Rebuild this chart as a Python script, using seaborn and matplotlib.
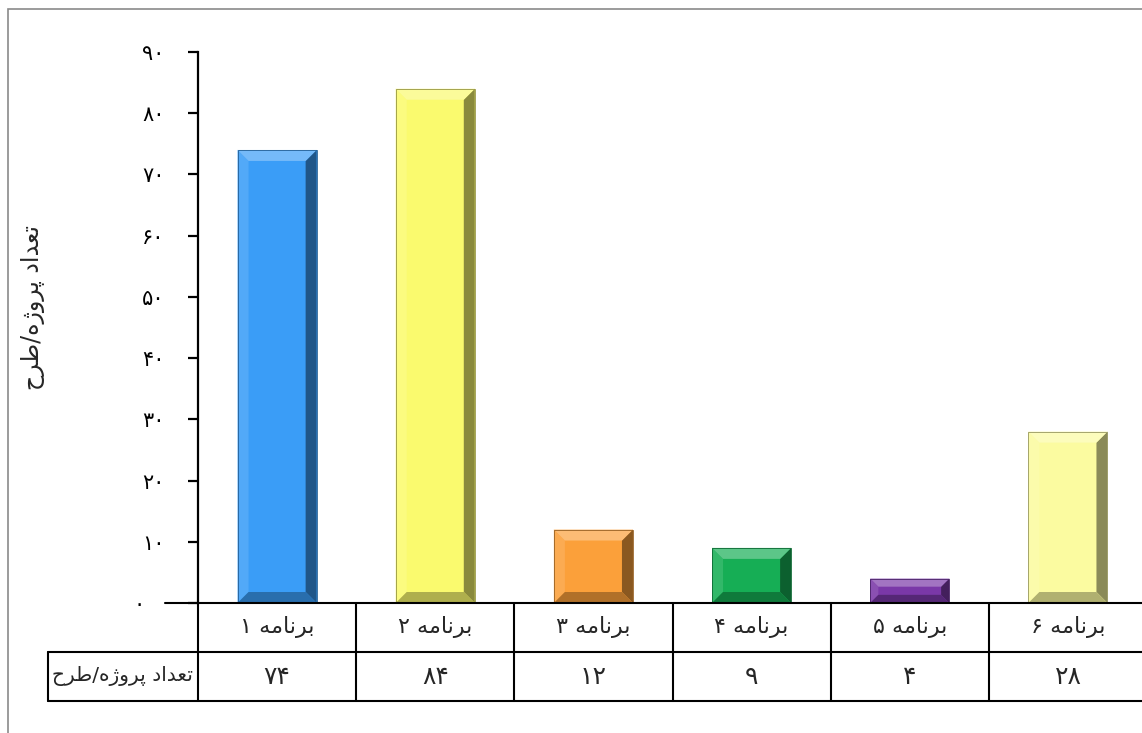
import numpy as np
import matplotlib
matplotlib.use("Agg")
import matplotlib.pyplot as plt
import seaborn as sns
from matplotlib.patches import Polygon, Rectangle
from matplotlib.lines import Line2D
import matplotlib.transforms as mtransforms
from matplotlib.colors import to_rgb

# ---------------- data ----------------
categories = ['برنامه ۱', 'برنامه ۲', 'برنامه ۳', 'برنامه ۴', 'برنامه ۵', 'برنامه ۶']
values = [74, 84, 12, 9, 4, 28]
colors = ['#3A9DF7', '#FAFA6E', '#FBA03A', '#16AE55', '#7A38A8', '#FBFBA0']
row_label = 'تعداد پروژه/طرح'
y_label = 'تعداد پروژه/طرح'
y_ticks = [0, 10, 20, 30, 40, 50, 60, 70, 80, 90]

# ---------------- minimal Arabic/Persian shaping ----------------
FORMS = {
    'ا': ('\uFE8D', '\uFE8E', None, None),
    'ب': ('\uFE8F', '\uFE90', '\uFE91', '\uFE92'),
    'ت': ('\uFE95', '\uFE96', '\uFE97', '\uFE98'),
    'ح': ('\uFEA1', '\uFEA2', '\uFEA3', '\uFEA4'),
    'د': ('\uFEA9', '\uFEAA', None, None),
    'ر': ('\uFEAD', '\uFEAE', None, None),
    'ژ': ('\uFB8A', '\uFB8B', None, None),
    'ط': ('\uFEC1', '\uFEC2', '\uFEC3', '\uFEC4'),
    'ع': ('\uFEC9', '\uFECA', '\uFECB', '\uFECC'),
    'م': ('\uFEE1', '\uFEE2', '\uFEE3', '\uFEE4'),
    'ن': ('\uFEE5', '\uFEE6', '\uFEE7', '\uFEE8'),
    'ه': ('\uFEE9', '\uFEEA', '\uFEEB', '\uFEEC'),
    'و': ('\uFEED', '\uFEEE', None, None),
    'پ': ('\uFB56', '\uFB57', '\uFB58', '\uFB59'),
}
PERSIAN_DIGITS = '۰۱۲۳۴۵۶۷۸۹'


def fa_num(n):
    return ''.join(PERSIAN_DIGITS[int(c)] for c in str(n))


def shape(s):
    out = []
    for i, ch in enumerate(s):
        if ch not in FORMS:
            out.append(ch)
            continue
        prev = s[i - 1] if i > 0 else ''
        nxt = s[i + 1] if i + 1 < len(s) else ''
        pj = prev in FORMS and FORMS[prev][2] is not None
        nj = nxt in FORMS and FORMS[ch][2] is not None
        iso, fin, ini, med = FORMS[ch]
        if pj and nj:
            out.append(med)
        elif pj:
            out.append(fin)
        elif nj:
            out.append(ini)
        else:
            out.append(iso)
    shaped = ''.join(out)
    runs = []
    cur = ''
    cur_digit = None
    for ch in shaped:
        d = ch in PERSIAN_DIGITS or ch.isdigit()
        if cur_digit is None or d == cur_digit:
            cur += ch
        else:
            runs.append((cur, cur_digit))
            cur = ch
        cur_digit = d
    if cur:
        runs.append((cur, cur_digit))
    vis = ''
    for r, d in reversed(runs):
        vis += r if d else r[::-1]
    return vis


# ---------------- figure ----------------
sns.set_theme(style='white')
plt.rcParams['font.family'] = ['DejaVu Sans']
W, H = 1142, 733
fig = plt.figure(figsize=(W / 100, H / 100), dpi=100)
ax_left, ax_right, ax_top, ax_bottom = 198, 1147, 52, 603
ax = fig.add_axes([ax_left / W, (H - ax_bottom) / H,
                   (ax_right - ax_left) / W, (ax_bottom - ax_top) / H])

sns.barplot(x=categories, y=values, hue=categories, palette=colors,
            width=0.5, legend=False, ax=ax, linewidth=0, saturation=1)
ax.set_xlim(-0.5, len(categories) - 0.5)
ax.set_ylim(0, 90)
ax.set_yticks(y_ticks)
ax.set_yticklabels([fa_num(v) for v in y_ticks], fontsize=15)
ax.set_xticks([])
ax.set_xlabel('')
ax.set_ylabel(shape(y_label), fontsize=17)
ax.yaxis.set_label_coords((45 - ax_left) / (ax_right - ax_left),
                          (ax_bottom - 308) / (ax_bottom - ax_top))
ax.tick_params(axis='y', direction='out', length=7, width=1.6, pad=17,
               colors='black', left=True)
for s in ['top', 'right', 'bottom']:
    ax.spines[s].set_visible(False)
ax.spines['left'].set_linewidth(1.6)
ax.spines['left'].set_color('black')
# the zero label sits a little further left, clear of the extended baseline
zero_lbl = ax.yaxis.get_major_ticks()[0].label1
zero_lbl.set_transform(zero_lbl.get_transform() +
                       mtransforms.ScaledTranslation(-0.2, 0, fig.dpi_scale_trans))


def mix(c, other, t):
    c = np.array(to_rgb(c))
    o = np.array(to_rgb(other))
    return tuple(c * (1 - t) + o * t)


# bevel overlays derived from the seaborn bar patches
px_per_x = (ax_right - ax_left) / (ax.get_xlim()[1] - ax.get_xlim()[0])
px_per_y = (ax_bottom - ax_top) / (ax.get_ylim()[1] - ax.get_ylim()[0])
for p, col in zip(list(ax.patches), colors):
    x0, w, h = p.get_x(), p.get_width(), p.get_height()
    if h <= 0:
        continue
    hp = h * px_per_y
    b = min(11, hp / 3)
    bx = b / px_per_x
    by = b / px_per_y
    x1 = x0 + w
    top = [(x0, h), (x1, h), (x1 - bx, h - by), (x0 + bx, h - by)]
    right = [(x1, h), (x1, 0), (x1 - bx, by), (x1 - bx, h - by)]
    left = [(x0, h), (x0 + bx, h - by), (x0 + bx, by), (x0, 0)]
    bottom = [(x0, 0), (x1, 0), (x1 - bx, by), (x0 + bx, by)]
    ax.add_patch(Polygon(left, closed=True, color=mix(col, 'white', 0.12), lw=0))
    ax.add_patch(Polygon(right, closed=True, color=mix(col, 'black', 0.45), lw=0))
    ax.add_patch(Polygon(bottom, closed=True, color=mix(col, 'black', 0.3), lw=0))
    ax.add_patch(Polygon(top, closed=True, color=mix(col, 'white', 0.3), lw=0))
    ax.add_patch(Rectangle((x0, 0), w, h, fill=False, ec=mix(col, 'black', 0.4), lw=0.6))

# ---------------- data table ----------------
tr = mtransforms.blended_transform_factory(ax.transData, ax.transAxes)
row_h = 49 / (ax_bottom - ax_top)
n = len(categories)
lc = 'black'
lw = 1.5
left_line_x = -0.5 - 33 / px_per_x
label_cell_x = -0.5 - 150 / px_per_x
ax.add_line(Line2D([left_line_x, n], [0, 0], transform=tr, color=lc, lw=lw, clip_on=False))
ax.add_line(Line2D([label_cell_x, n], [-row_h, -row_h], transform=tr, color=lc, lw=lw, clip_on=False))
ax.add_line(Line2D([label_cell_x, n], [-2 * row_h, -2 * row_h], transform=tr, color=lc, lw=lw, clip_on=False))
ax.add_line(Line2D([label_cell_x, label_cell_x], [-row_h, -2 * row_h], transform=tr, color=lc, lw=lw, clip_on=False))
for i in range(n + 1):
    xb = i - 0.5
    ax.add_line(Line2D([xb, xb], [0, -2 * row_h], transform=tr, color=lc, lw=lw, clip_on=False))
for i, (c, v) in enumerate(zip(categories, values)):
    ax.text(i, -0.5 * row_h, shape(c), transform=tr, ha='center', va='center', fontsize=16, clip_on=False)
    ax.text(i, -1.5 * row_h, fa_num(v), transform=tr, ha='center', va='center', fontsize=18, clip_on=False)
ax.text((label_cell_x - 0.5) / 2, -1.5 * row_h, shape(row_label), transform=tr,
        ha='center', va='center', fontsize=14.5, clip_on=False)

# outer chart frame
fig.add_artist(Rectangle((8 / W, -0.1), 1.2, (H - 9) / H + 0.1, transform=fig.transFigure,
                         fill=False, ec='#8a8a8a', lw=1.2))

fig.savefig('out.png', dpi=100)
